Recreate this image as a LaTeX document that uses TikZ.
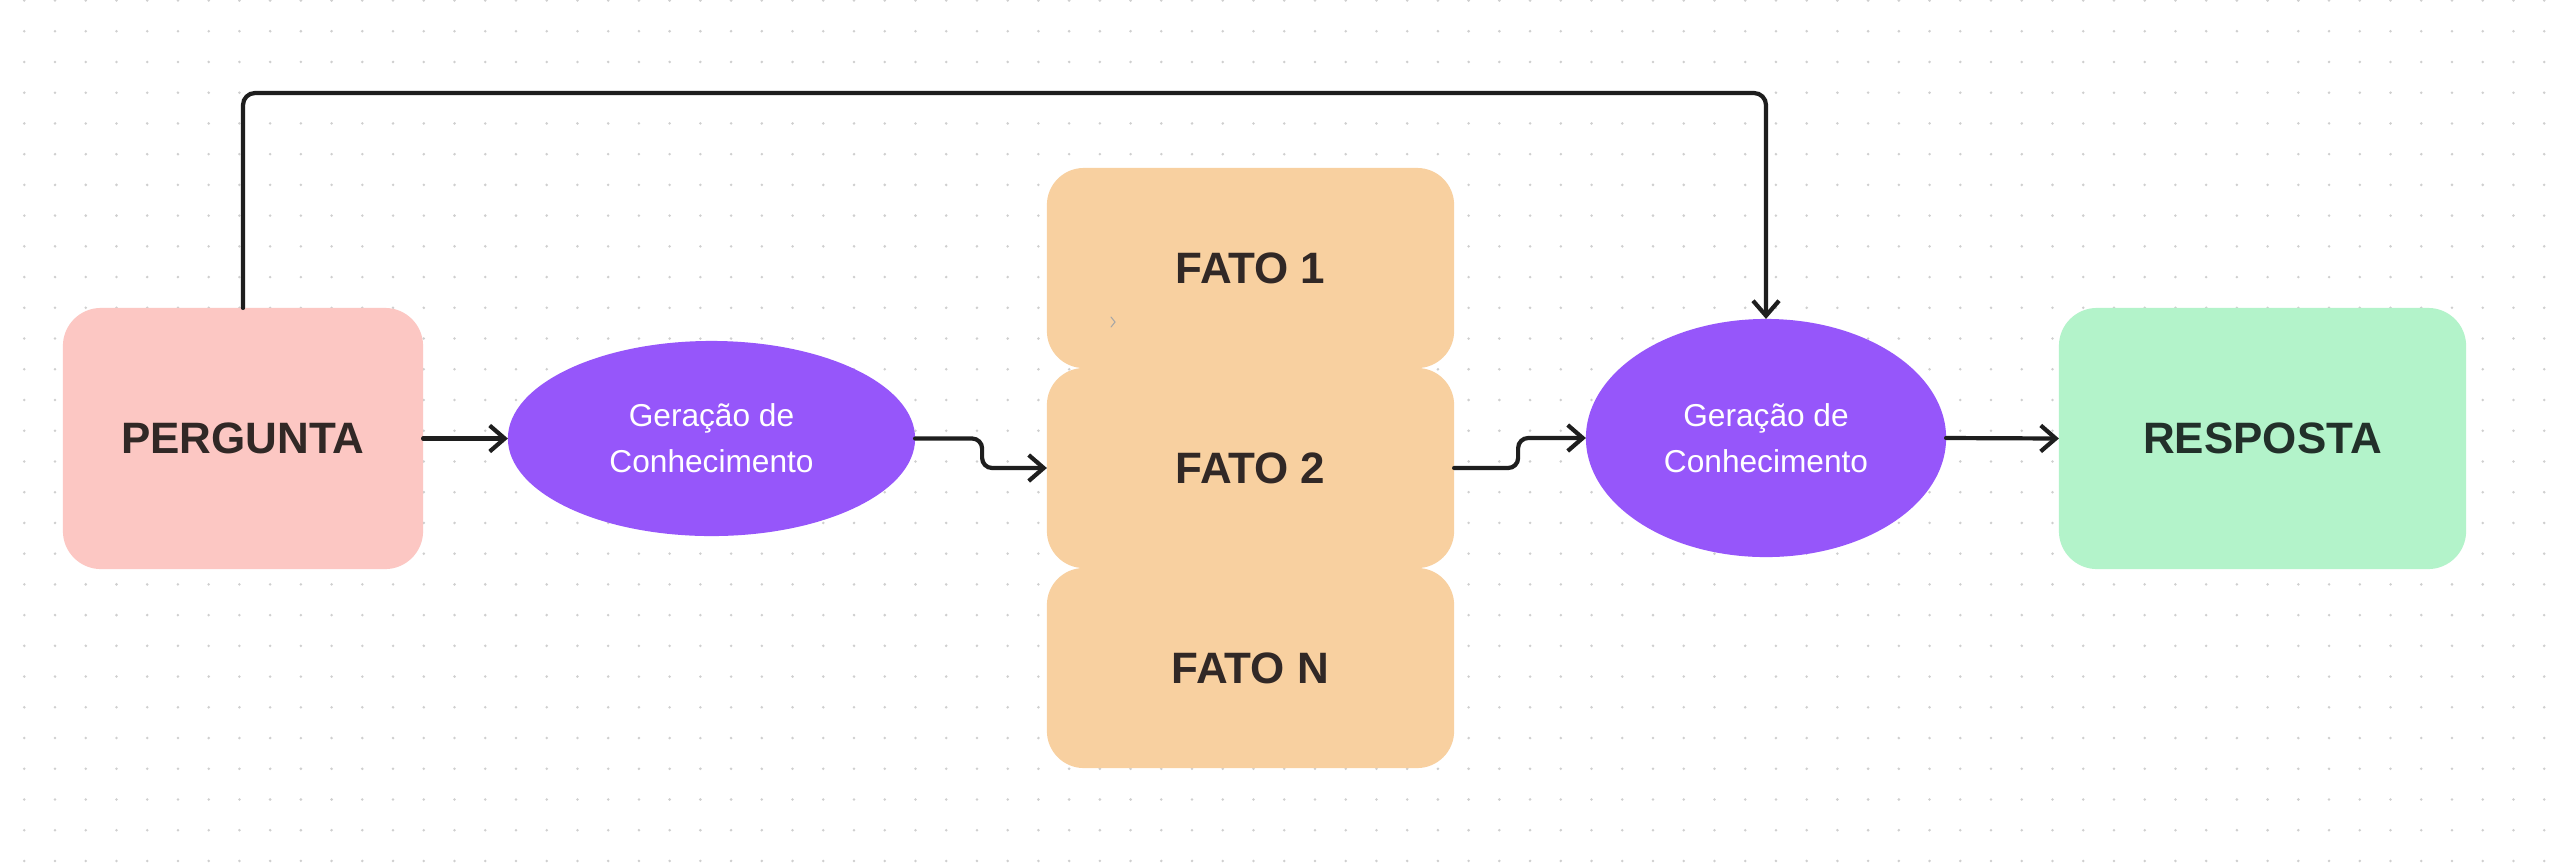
\documentclass[tikz,border=0pt]{standalone}
\usepackage{fontspec}
\setmainfont{Liberation Sans}
\usetikzlibrary{arrows.meta,shapes.geometric}
\definecolor{rosa}{HTML}{FCC7C3}
\definecolor{roxo}{HTML}{9656FA}
\definecolor{laranja}{HTML}{F8D0A0}
\definecolor{verde}{HTML}{B3F3CA}
\definecolor{ponto}{HTML}{CFCFCF}
\definecolor{linha}{HTML}{1E1E1E}
\definecolor{marrom}{HTML}{312826}
\definecolor{verdeesc}{HTML}{22302A}

\begin{document}
\begin{tikzpicture}[x=0.01cm,y=-0.01cm,
    caixa/.style={rounded corners=0.38cm, minimum width=3.6cm, minimum height=2.61cm,
      inner sep=0pt, outer sep=0pt, font=\fontsize{12.5}{15}\selectfont\bfseries},
    fato/.style={caixa, fill=laranja, text=marrom, rounded corners=0.37cm,
      minimum width=4.07cm, minimum height=2cm},
    geracao/.style={ellipse, fill=roxo, text=white, inner sep=0pt, outer sep=0pt,
      align=center, font=\fontsize{9}{13}\selectfont},
    seta/.style={draw=linha, line width=0.042cm, line cap=round, rounded corners=0.1cm,
      -{Straight Barb[length=0.15cm,width=0.26cm]}}]
  \useasboundingbox (0,0) rectangle (2570,866);
  \fill[white] (0,0) rectangle (2570,866);
  % pontos do fundo
  \foreach \i in {0,...,82}
    \foreach \j in {0,...,28}
      \fill[ponto] (24.3+30.73*\i,0.5+30.73*\j) circle (0.4pt);

  \node[caixa, fill=rosa, text=marrom] (pergunta) at (243,438.5) {PERGUNTA};
  \node[geracao, minimum width=4.07cm, minimum height=1.95cm] (ger1) at (711.5,438.5)
    {Geração de\\Conhecimento};
  \node[fato] (fato1) at (1250.5,268) {FATO 1};
  \node[fato] (fato2) at (1250.5,468) {FATO 2};
  \node[fato] (faton) at (1250.5,668) {FATO N};
  \draw[gray!70, line width=0.3pt, line cap=round] (1111,317) -- (1115,322) -- (1111,327);
  \node[geracao, minimum width=3.6cm, minimum height=2.38cm] (ger2) at (1766,438)
    {Geração de\\Conhecimento};
  \node[caixa, fill=verde, text=verdeesc, minimum width=4.07cm] (resposta) at (2262.5,438.5) {RESPOSTA};

  \draw[seta] (pergunta.east) -- (ger1.west);
  \draw[seta] (ger1.east) -- ++(67,0) |- (fato2.west);
  \draw[seta] (fato2.east) -- ++(64,0) |- (ger2.west);
  \draw[seta] (ger2.east) -- (resposta.west);
  \coordinate (topo) at (1000,93);
  \draw[seta, rounded corners=0.12cm] (pergunta.north) |- (topo) -| (ger2.north);
\end{tikzpicture}
\end{document}
